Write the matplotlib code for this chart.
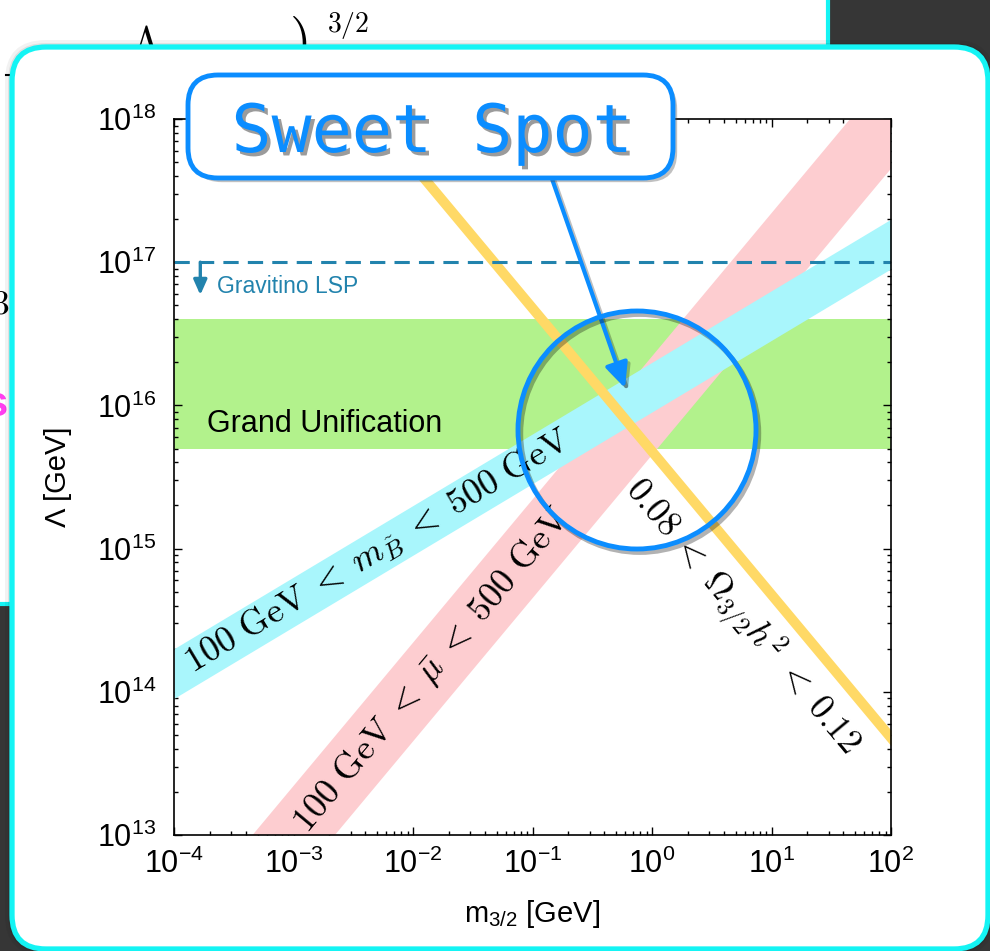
import numpy as np
import matplotlib
matplotlib.use("Agg")
import matplotlib.pyplot as plt
from matplotlib import patheffects
from matplotlib.patches import FancyBboxPatch, FancyArrowPatch, Circle, Rectangle
from matplotlib.ticker import FixedLocator, FixedFormatter, LogLocator, NullFormatter

plt.rcParams['font.family'] = ['Liberation Sans', 'DejaVu Sans']
plt.rcParams['mathtext.fontset'] = 'cm'

# band edges at the two ends of the m_3/2 range [GeV]
m32_ends = [1e-4, 1e2]
mu_lower = [4.5e11, 4.5e17]
mu_upper = [2.2e12, 2.2e18]
bino_lower = [9.0e13, 9.0e16]
bino_upper = [2.0e14, 2.0e17]
omega_lower = [4.2e19, 4.2e13]
omega_upper = [5.4e19, 5.4e13]
gut_range = [5e15, 4e16]
gravitino_lsp = 1e17

x_ticks = [1e-4, 1e-3, 1e-2, 1e-1, 1e0, 1e1, 1e2]
x_exps = ['-4', '-3', '-2', '-1', '0', '1', '2']
y_ticks = [1e13, 1e14, 1e15, 1e16, 1e17, 1e18]
y_exps = ['13', '14', '15', '16', '17', '18']

blue = '#0B8DFF'
cyan_edge = '#14F4F4'
green = '#B2F28C'
pink = '#FDCDD0'
light_cyan = '#A9F6FC'
yellow = '#FFD966'
lsp_blue = '#2283AD'

fig = plt.figure(figsize=(9.9, 9.51), dpi=100)
fig.patch.set_facecolor('#363636')

# --- slide underneath and the white panel (pixel coordinates) ---
bg = fig.add_axes([0, 0, 1, 1])
bg.set_xlim(0, 990)
bg.set_ylim(951, 0)
bg.axis('off')
bg.set_zorder(0)

bg.add_patch(Rectangle((0, 0), 828, 604, fc='white', ec='none', zorder=1))
bg.plot([828, 828], [0, 604], color=cyan_edge, lw=3, zorder=2)
bg.plot([0, 828], [604, 604], color=cyan_edge, lw=3, zorder=2)
bg.text(146, 56, r'$\Lambda$', fontsize=30, ha='center', va='baseline', zorder=2)
bg.text(298, 58, r'$)$', fontsize=40, ha='center', va='baseline', zorder=2)
bg.text(348, 32, r'$3/2$', fontsize=20, ha='center', va='baseline', zorder=2)
bg.text(9, 313, r'$3$', fontsize=24, ha='right', va='baseline', zorder=2)
bg.text(8, 416, 's', fontsize=30, weight='bold', color='#FF3FEF', ha='right', va='baseline', zorder=2)
bg.plot([6, 14], [75, 75], color='k', lw=1.5, zorder=2)

for grow, a in [(7, 0.05), (4, 0.07), (2, 0.1)]:
    bg.add_patch(FancyBboxPatch((12 - grow, 47 - grow), 976 + 2 * grow, 902 + 2 * grow,
                                boxstyle='round,pad=0,rounding_size=%d' % (34 + grow),
                                fc='black', ec='none', alpha=a, zorder=3))
bg.add_patch(FancyBboxPatch((12, 47), 976, 902, boxstyle='round,pad=0,rounding_size=34',
                            fc='white', ec=cyan_edge, lw=3.8, zorder=4))

# --- the plot itself ---
ax = fig.add_axes([174 / 990, (951 - 835) / 951, 717 / 990, 716 / 951])
ax.set_zorder(1)
ax.set_xscale('log')
ax.set_yscale('log')
ax.set_xlim(m32_ends)
ax.set_ylim(1e13, 1e18)

ax.axhspan(gut_range[0], gut_range[1], color=green, lw=0, zorder=1)
ax.fill_between(m32_ends, mu_lower, mu_upper, color=pink, lw=0, zorder=2)
ax.fill_between(m32_ends, bino_lower, bino_upper, color=light_cyan, lw=0, zorder=3)
ax.fill_between(m32_ends, omega_lower, omega_upper, color=yellow, lw=0, zorder=4)
ax.axhline(gravitino_lsp, color=lsp_blue, lw=2.2, dashes=(5, 3), zorder=5)

ax.annotate('', xy=(1.66e-4, 5.9e16), xytext=(1.66e-4, gravitino_lsp),
            arrowprops=dict(arrowstyle='-|>,head_length=0.9,head_width=0.4',
                            color=lsp_blue, lw=2.4, shrinkA=0, shrinkB=0), zorder=6)
ax.text(2.29e-4, 6.1e16, 'Gravitino LSP', fontsize=16.5, color=lsp_blue, va='baseline')
ax.text(1.89e-4, 6.5e15, 'Grand Unification', fontsize=22, va='baseline', zorder=6)


def screen_angle(xs, ys):
    p = ax.transData.transform(np.column_stack([xs, ys]))
    return np.degrees(np.arctan2(p[1, 1] - p[0, 1], p[1, 0] - p[0, 0]))


ax.text(5.1e-3, 9.6e14, r'$100\ \mathrm{GeV}\;<\;m_{\tilde{B}}\;<\;500\ \mathrm{GeV}$',
        fontsize=26, rotation=screen_angle(m32_ends, bino_upper), rotation_mode='anchor',
        ha='center', va='center', zorder=7)
ax.text(1.44e-2, 1.43e14, r'$100\ \mathrm{GeV}\;<\;\bar{\mu}\;<\;500\ \mathrm{GeV}$',
        fontsize=26, rotation=screen_angle(m32_ends, mu_upper), rotation_mode='anchor',
        ha='center', va='center', zorder=7)
ax.text(5.66, 3.3e14, r'$0.08\;<\;\Omega_{3/2}h^2\;<\;0.12$',
        fontsize=25.5, rotation=screen_angle(m32_ends, omega_upper), rotation_mode='anchor',
        ha='center', va='center', zorder=7)

ax.xaxis.set_major_locator(FixedLocator(x_ticks))
ax.xaxis.set_major_formatter(FixedFormatter([r'$\mathregular{10^{%s}}$' % e for e in x_exps]))
ax.yaxis.set_major_locator(FixedLocator(y_ticks))
ax.yaxis.set_major_formatter(FixedFormatter([r'$\mathregular{10^{%s}}$' % e for e in y_exps]))
for axis in (ax.xaxis, ax.yaxis):
    axis.set_minor_locator(LogLocator(base=10, subs=range(2, 10), numticks=20))
    axis.set_minor_formatter(NullFormatter())
ax.tick_params(which='both', direction='in', top=True, right=True, width=1, labelsize=22)
ax.tick_params(which='major', length=6)
ax.tick_params(which='minor', length=3)
ax.tick_params(axis='x', pad=10)
ax.tick_params(axis='y', pad=13)
for s in ax.spines.values():
    s.set_linewidth(1.2)
    s.set_zorder(8)

ax.set_xlabel(r'$\mathregular{m_{3/2}}$ [GeV]', fontsize=21)
ax.set_ylabel('Λ [GeV]', fontsize=21)
ax.xaxis.set_label_coords(0.5, -0.088)
ax.yaxis.set_label_coords(-0.142, 0.5)

# --- the "Sweet Spot" callout on top ---
top = fig.add_axes([0, 0, 1, 1])
top.set_zorder(2)
top.patch.set_alpha(0)
top.set_xlim(0, 990)
top.set_ylim(951, 0)
top.axis('off')

top.add_patch(FancyArrowPatch((551, 176), (625, 388),
                              arrowstyle='-|>,head_length=15,head_width=7', mutation_scale=1,
                              color=blue, lw=3, shrinkA=0, shrinkB=0,
                              path_effects=[patheffects.SimpleLineShadow(offset=(2, -2), alpha=0.25),
                                            patheffects.Normal()]))
top.add_patch(FancyBboxPatch((188, 75), 485, 103, boxstyle='round,pad=0,rounding_size=30',
                             fc='white', ec=blue, lw=3.5,
                             path_effects=[patheffects.withSimplePatchShadow(offset=(3, -3), alpha=0.35)]))
top.text(432, 152, 'Sweet Spot', family='DejaVu Sans Mono', fontsize=48, color=blue,
         ha='center', va='baseline',
         path_effects=[patheffects.withSimplePatchShadow(offset=(2.5, -2.5), shadow_rgbFace='#222222', alpha=0.45)])
top.add_patch(Circle((637, 430), 119, fill=False, ec=blue, lw=3.5,
                     path_effects=[patheffects.SimpleLineShadow(offset=(2, -2.5), alpha=0.3),
                                   patheffects.Normal()]))

fig.savefig('out.png', dpi=100, facecolor=fig.get_facecolor())
